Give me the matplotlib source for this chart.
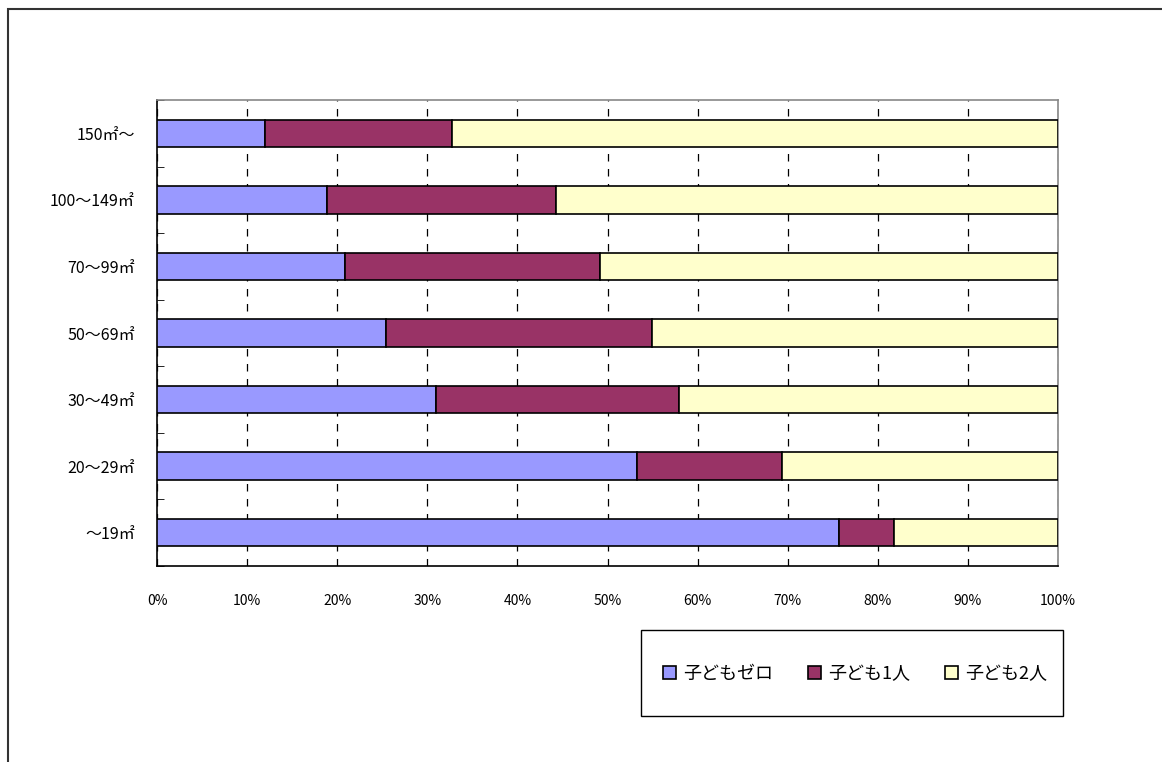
import numpy as np
import matplotlib.pyplot as plt
from matplotlib.patches import Rectangle

plt.rcParams['font.family'] = ['Noto Sans CJK JP', 'DejaVu Sans']

# data (bottom to top)
categories = ['～19㎡', '20～29㎡', '30～49㎡', '50～69㎡', '70～99㎡', '100～149㎡', '150㎡～']
zero_kids = [75.7, 53.3, 31.0, 25.4, 20.9, 18.9, 12.0]
one_kid = [6.1, 16.1, 26.9, 29.5, 28.3, 25.4, 20.7]
two_kids = [100 - a - b for a, b in zip(zero_kids, one_kid)]
series_names = ['子どもゼロ', '子ども1人', '子ども2人']
colors = ['#9999FF', '#993366', '#FFFFCC']

W, H = 1162, 762
fig = plt.figure(figsize=(W/100, H/100), dpi=100)
ax = fig.add_axes([157/W, 1 - 566/H, 901/W, 466/H])

# outer chart frame
fig.patches.append(Rectangle((8/W, -0.1), 1.2, 1 - 9/H + 0.1, transform=fig.transFigure,
                             fill=False, edgecolor='#333333', linewidth=1.5))
# legend frame
fig.patches.append(Rectangle((641/W, 1 - 716/H), 422/W, 86/H, transform=fig.transFigure,
                             fill=False, edgecolor='black', linewidth=1.0))

y = np.arange(len(categories))
left = np.zeros(len(categories))
for vals, name, c in zip([zero_kids, one_kid, two_kids], series_names, colors):
    ax.barh(y, vals, left=left, height=0.41, color=c, edgecolor='black', linewidth=1.2,
            label=name, zorder=3)
    left += np.array(vals)

ax.set_xlim(0, 100)
ax.set_ylim(-0.5, len(categories) - 0.5)
ax.set_xticks(np.arange(0, 101, 10))
ax.set_xticklabels([f'{v}%' for v in range(0, 101, 10)], fontsize=10)
ax.set_yticks(y)
ax.set_yticklabels(categories, fontsize=11.5)
ax.tick_params(axis='y', length=0, pad=16)
ax.tick_params(axis='x', length=0, pad=20)
ax.set_yticks(np.arange(-0.5, len(categories), 1), minor=True)
ax.tick_params(axis='y', which='minor', direction='in', length=5, color='black')

ax.grid(axis='x', linestyle=(0, (6, 6)), color='black', linewidth=0.9, zorder=0)
for side in ['left', 'bottom']:
    ax.spines[side].set_color('black')
    ax.spines[side].set_linewidth(1.2)
for side in ['top', 'right']:
    ax.spines[side].set_color('#888888')
    ax.spines[side].set_linewidth(1.2)

leg = fig.legend(loc='center', bbox_to_anchor=(855/W, 1 - 674/H), ncol=3, fontsize=13,
                 frameon=False, handlelength=0.75, handleheight=0.75, handletextpad=0.4,
                 columnspacing=1.9, borderpad=0, borderaxespad=0)

fig.savefig('out.png', dpi=100)
